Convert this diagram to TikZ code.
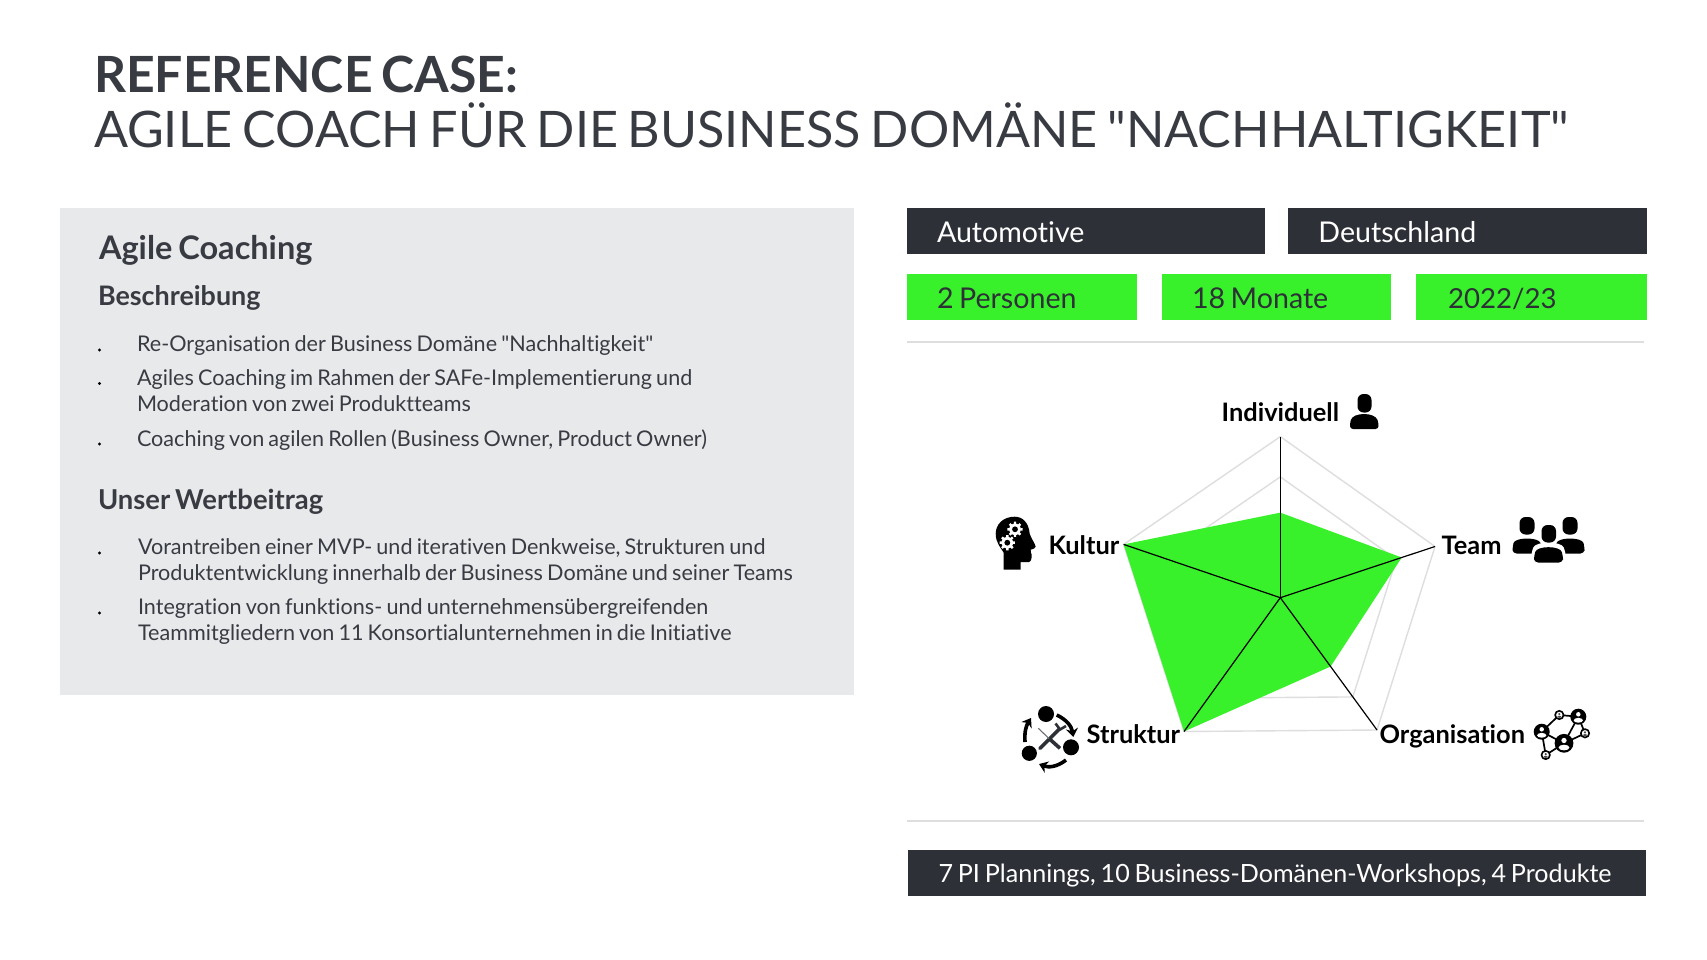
\documentclass[tikz,border=0pt]{standalone}
\usepackage{fontspec}
\setmainfont[Ligatures={NoCommon,TeXOff},WordSpace=0.75]{Lato}
\usetikzlibrary{arrows.meta,calc}
\definecolor{darkbar}{HTML}{2E3038}
\definecolor{limeg}{HTML}{39F12A}
\definecolor{panelg}{HTML}{E8E9EB}
\definecolor{inkg}{HTML}{383B42}
\definecolor{gridg}{HTML}{DEDEDE}
\tikzset{
  x=1pt,y=-1pt,
  txt/.style={anchor=base west,inner sep=0pt,outer sep=0pt,text=inkg},
  body/.style={txt,align=left,font=\fontsize{21.6}{26}\selectfont},
  head/.style={txt,font=\fontsize{26.9}{30}\selectfont\bfseries},
  bartext/.style={txt,text=darkbar,font=\fontsize{28.6}{32}\selectfont},
  darktext/.style={bartext,text=white},
  axislabel/.style={anchor=base west,inner sep=0pt,text=black,font=\fontsize{25.4}{28}\selectfont\bfseries},
  darkbox/.style={fill=darkbar,draw=none},
  greenbox/.style={fill=limeg,draw=none},
  rule/.style={draw=gridg,line width=1.2pt},
  bullet/.style={circle,fill=black,inner sep=0pt,minimum size=3.4pt},
  spoke/.style={draw=black,line width=1.2pt},
  gridline/.style={draw=gridg,line width=1.4pt,line join=round},
  cyclearrow/.style={black,line width=3.6pt,-{Stealth[length=8.5pt,width=12pt]}},
}
\begin{document}
\begin{tikzpicture}
\useasboundingbox (0,0) rectangle (1707,960);
\fill[white] (0,0) rectangle (1707,960);
% title
\node[txt,font=\fontsize{49.9}{56}\selectfont\bfseries] (t1) at (94,93) {REFERENCE CASE:};
\node[txt,font=\fontsize{50.35}{56}\selectfont] (t2) at (94,148) {AGILE COACH FÜR DIE BUSINESS DOMÄNE "NACHHALTIGKEIT"};
% panel
\fill[panelg] (60,208) rectangle (853.5,694.6);
\node[txt,font=\fontsize{32.5}{36}\selectfont\bfseries] (a0) at (99,259) {Agile Coaching};
\node[head] (a1) at (98,305) {Beschreibung};
\node[body] (b1) at (137,351) {Re-Organisation der Business Domäne "Nachhaltigkeit"};
\node[body] (b2) at (137,385) {Agiles Coaching im Rahmen der SAFe-Implementierung und};
\node[body] (b2b) at (137,411) {Moderation von zwei Produktteams};
\node[body] (b3) at (137,446) {Coaching von agilen Rollen (Business Owner, Product Owner)};
\node[head,font=\fontsize{27.4}{30}\selectfont\bfseries] (a2) at (98,509) {Unser Wertbeitrag};
\node[body] (c1) at (138,554) {Vorantreiben einer MVP- und iterativen Denkweise, Strukturen und};
\node[body] (c1b) at (138,580) {Produktentwicklung innerhalb der Business Domäne und seiner Teams};
\node[body] (c2) at (138,614) {Integration von funktions- und unternehmensübergreifenden};
\node[body] (c2b) at (138,640) {Teammitgliedern von 11 Konsortialunternehmen in die Initiative};
\foreach \n/\yy in {p1/350,p2/383.5,p3/444,p4/553,p5/613} \node[bullet] (\n) at (99.5,\yy) {};
% bars
\fill[darkbox] (907,208) rectangle (1265,253.7);
\fill[darkbox] (1288,208) rectangle (1647,253.7);
\fill[greenbox] (907,274.4) rectangle (1136.6,320);
\fill[greenbox] (1161.6,274.4) rectangle (1391,320);
\fill[greenbox] (1416.4,274.4) rectangle (1647,320);
\fill[darkbox] (908,850) rectangle (1646,896);
\node[darktext] (d1) at (937,242) {Automotive};
\node[darktext] (d2) at (1318.4,242) {Deutschland};
\node[bartext] (g1) at (937,308) {2 Personen};
\node[bartext] (g2) at (1192,308) {18 Monate};
\node[bartext,font=\fontsize{27.6}{32}\selectfont] (g3) at (1448,308) {2022/23};
\node[darktext,font=\fontsize{25.1}{30}\selectfont] (d3) at (938.5,882.6) {7 PI Plannings, 10 Business-Domänen-Workshops, 4 Produkte};
\draw[rule] (907,342) -- (1644,342);
\draw[rule] (907,821) -- (1644,821);
% radar
\coordinate (O) at (1280.3,597.7);
\coordinate (A) at (1280.3,436.6);
\coordinate (B) at (1435,546.5);
\coordinate (C) at (1377,730);
\coordinate (D) at (1184,731.5);
\coordinate (E) at (1123.6,544.4);
\foreach \f in {1,0.75,0.5,0.25}
  \draw[gridline] ($(O)!\f!(A)$) -- ($(O)!\f!(B)$) -- ($(O)!\f!(C)$) -- ($(O)!\f!(D)$) -- ($(O)!\f!(E)$) -- cycle;
\fill[limeg] ($(O)!0.528!(A)$) -- ($(O)!0.785!(B)$) -- ($(O)!0.52!(C)$) -- (D) -- (E) -- cycle;
\foreach \v in {A,B,C,D,E} \draw[spoke] (O) -- (\v);
\node[axislabel] (l1) at (1221.5,421) {Individuell};
\node[axislabel] (l2) at (1441.5,554.7) {Team};
\node[axislabel] (l3) at (1379.4,743.6) {Organisation};
\node[axislabel] (l4) at (1086.5,743.6) {Struktur};
\node[axislabel] (l5) at (1048.4,554.7) {Kultur};
% person icon
\fill[black,rounded corners=6pt] (1357.5,394) rectangle (1371.5,412.5);
\fill[black,rounded corners=3pt] (1350,429) -- (1350,423) .. controls (1353,412) and (1375,412) .. (1378.5,423) -- (1378.5,429) -- cycle;
% team icon
\foreach \hx in {1527,1570}{
  \fill[black,rounded corners=6pt] (\hx-7.5,517) rectangle (\hx+7.5,534.5);
  \fill[black,rounded corners=4pt] (\hx-14.5,553.5) -- (\hx-14.5,547) .. controls (\hx-12,537) and (\hx+12,537) .. (\hx+14.5,547) -- (\hx+14.5,553.5) -- cycle;
}
\fill[white,rounded corners=6pt] (1531,566) -- (1531,553) .. controls (1536,541) and (1561,541) .. (1566,553) -- (1566,566) -- cycle;
\fill[black,rounded corners=6pt] (1541.5,525) rectangle (1556,542.5);
\fill[black,rounded corners=4pt] (1534,562.5) -- (1534,556) .. controls (1537,545.5) and (1560,545.5) .. (1563,556) -- (1563,562.5) -- cycle;
% head icon
\begin{scope}[shift={(-5.3,-3.3)}]
\fill[black] (1009,573) -- (1026,573) -- (1026,565.5) -- (1034,565.5) .. controls (1037,565) and (1037,560) .. (1037,558) .. controls (1037,556) and (1035,555) .. (1036,553) .. controls (1038,552) and (1041,552) .. (1041,550) .. controls (1040,546) and (1036,541) .. (1035,537) .. controls (1034,526) and (1028,520) .. (1020,520) .. controls (1008,520) and (1001,528) .. (1001,537) .. controls (1001,546) and (1006,551) .. (1009,556) -- cycle;
\foreach \gx/\gy in {1020.3/532.6,1012.6/546}{
  \foreach \a in {0,45,...,315}
    \fill[white] ($(\gx,\gy)+(\a-13:5.4)$) -- ($(\gx,\gy)+(\a-9:7.7)$) -- ($(\gx,\gy)+(\a+9:7.7)$) -- ($(\gx,\gy)+(\a+13:5.4)$) -- cycle;
  \fill[white] (\gx,\gy) circle (5.8);
  \fill[black] (\gx,\gy) circle (2.9);
}
\end{scope}
% struktur icon
\fill[black] (1046,714) circle (8);
\fill[black] (1071,747.3) circle (8);
\fill[black] (1029.3,753.3) circle (7.6);
\draw[cyclearrow] (1056.7,715) to[bend left=28] (1073.3,737);
\draw[cyclearrow] (1066,760) to[bend left=30] (1039,764);
\draw[cyclearrow] (1025,742) to[bend left=18] (1031,718);
\draw[darkbar,line width=3.6pt,line cap=round] (1040,748.3) -- (1059,729.3);
\draw[darkbar,line width=2.6pt] (1055.5,723.5) -- (1060,729.5) -- (1066,726);
\draw[darkbar!70,line width=1.1pt] (1038.3,728.3) -- (1049,738.5);
\draw[darkbar,line width=3.6pt] (1049,738.5) -- (1060,748.3);
% network icon
\draw[black,line width=1.7pt] (1541.7,731.7) -- (1559.3,715) -- (1578.3,716.7) -- (1585,733.3) -- (1564,743.3) -- (1578.3,716.7);
\draw[black,line width=1.7pt] (1541.7,731.7) -- (1545.7,755) -- (1564,743.3) -- (1541.7,731.7);
\foreach \nx/\ny/\nr in {1578.3/716.7/8,1541.7/731.7/8,1564/743.3/9.4}{
  \fill[black] (\nx,\ny) circle (\nr);
  \fill[white] (\nx,\ny-\nr*0.3) circle (\nr*0.28);
  \fill[white] (\nx,\ny+\nr*0.45) ellipse ({\nr*0.58} and {\nr*0.3});
}
\foreach \nx/\ny in {1559.3/715,1585/733.3,1545.7/755}{
  \fill[white] (\nx,\ny) circle (4.2);
  \draw[black,line width=1.6pt] (\nx,\ny) circle (4.2);
  \fill[black!70] (\nx,\ny-0.9) circle (1.2);
  \fill[black!70] (\nx,\ny+1.8) ellipse (2 and 1);
}
\end{tikzpicture}
\end{document}
